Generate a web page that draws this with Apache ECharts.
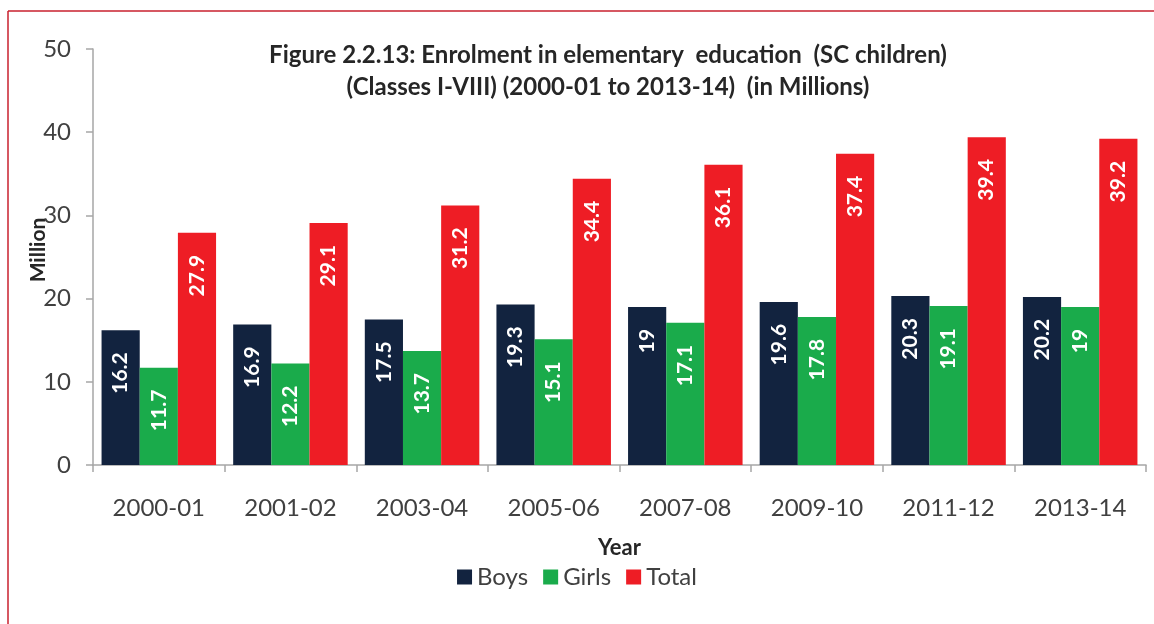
<!DOCTYPE html>
<html><head><meta charset="utf-8">
<script src="https://cdn.jsdelivr.net/npm/echarts@6/dist/echarts.min.js"></script>
<style>html,body{margin:0;padding:0;background:#fff}#c{width:1154px;height:624px}</style>
</head><body><div id="c"></div>
<script>
const categories = ['2000-01','2001-02','2003-04','2005-06','2007-08','2009-10','2011-12','2013-14'];
const boys = [16.2,16.9,17.5,19.3,19,19.6,20.3,20.2];
const girls = [11.7,12.2,13.7,15.1,17.1,17.8,19.1,19];
const total = [27.9,29.1,31.2,34.4,36.1,37.4,39.4,39.2];
const yTicks = [0,10,20,30,40,50];

const FONT = 'Lato';
const labelCfg = {
  show: true, position: 'insideTop', rotate: 90, align: 'right', verticalAlign: 'middle',
  distance: 22, color: '#fff', fontFamily: FONT, fontWeight: 'bold', fontSize: 21
};
const chart = echarts.init(document.getElementById('c'));
chart.setOption({
  animation: false,
  textStyle: {fontFamily: FONT},
  title: {
    text: 'Figure 2.2.13: Enrolment in elementary  education  (SC children)\n(Classes I-VIII) (2000-01 to 2013-14)  (in Millions)',
    left: 603, top: 34, textAlign: 'center',
    textStyle: {fontFamily: FONT, fontWeight: 'bold', fontSize: 24, color: '#262626', lineHeight: 32}
  },
  legend: {
    data: ['Boys','Girls','Total'], left: 'center', top: 560, itemWidth: 15, itemHeight: 15, itemGap: 15,
    icon: 'rect', textStyle: {fontFamily: FONT, fontSize: 24, color: '#404040'}
  },
  grid: {left: 93, right: 8, top: 49, bottom: 159, containLabel: false, outerBoundsMode: 'none'},
  xAxis: {
    type: 'category', data: categories, name: 'Year', nameLocation: 'middle', nameGap: 72,
    nameTextStyle: {fontFamily: FONT, fontWeight: 'bold', fontSize: 22, color: '#262626'},
    axisLine: {lineStyle: {color: '#a6a6a6', width: 1.5}},
    axisTick: {show: true, length: 7, lineStyle: {color: '#a6a6a6', width: 1.5}},
    axisLabel: {fontFamily: FONT, fontSize: 24, color: '#404040', margin: 31}
  },
  yAxis: {
    type: 'value', min: yTicks[0], max: yTicks[yTicks.length-1], interval: 10,
    name: 'Million', nameLocation: 'middle', nameGap: 44, nameRotate: 90, nameMoveOverlap: false,
    nameTextStyle: {fontFamily: FONT, fontWeight: 'bold', fontSize: 21, color: '#262626', padding: [0,0,0,14]},
    axisLine: {show: true, lineStyle: {color: '#a6a6a6', width: 1.5}},
    axisTick: {show: true, length: 7, lineStyle: {color: '#a6a6a6', width: 1.5}},
    splitLine: {show: false},
    axisLabel: {fontFamily: FONT, fontSize: 24, color: '#404040', margin: 22}
  },
  series: [
    {name: 'Boys', type: 'bar', data: boys, barGap: '0%', barCategoryGap: '13%', itemStyle: {color: '#12233f'}, label: labelCfg},
    {name: 'Girls', type: 'bar', data: girls, barGap: '0%', barCategoryGap: '13%', itemStyle: {color: '#1aab4b'}, label: labelCfg},
    {name: 'Total', type: 'bar', data: total, barGap: '0%', barCategoryGap: '13%', itemStyle: {color: '#ee1d25'}, label: labelCfg}
  ],
  graphic: [
    {type: 'line', shape: {x1: 8, y1: 11, x2: 1154, y2: 11}, style: {stroke: '#c8202e', lineWidth: 1.5}},
    {type: 'line', shape: {x1: 8, y1: 11, x2: 8, y2: 624}, style: {stroke: '#c8202e', lineWidth: 1.5}}
  ]
});
</script></body></html>
